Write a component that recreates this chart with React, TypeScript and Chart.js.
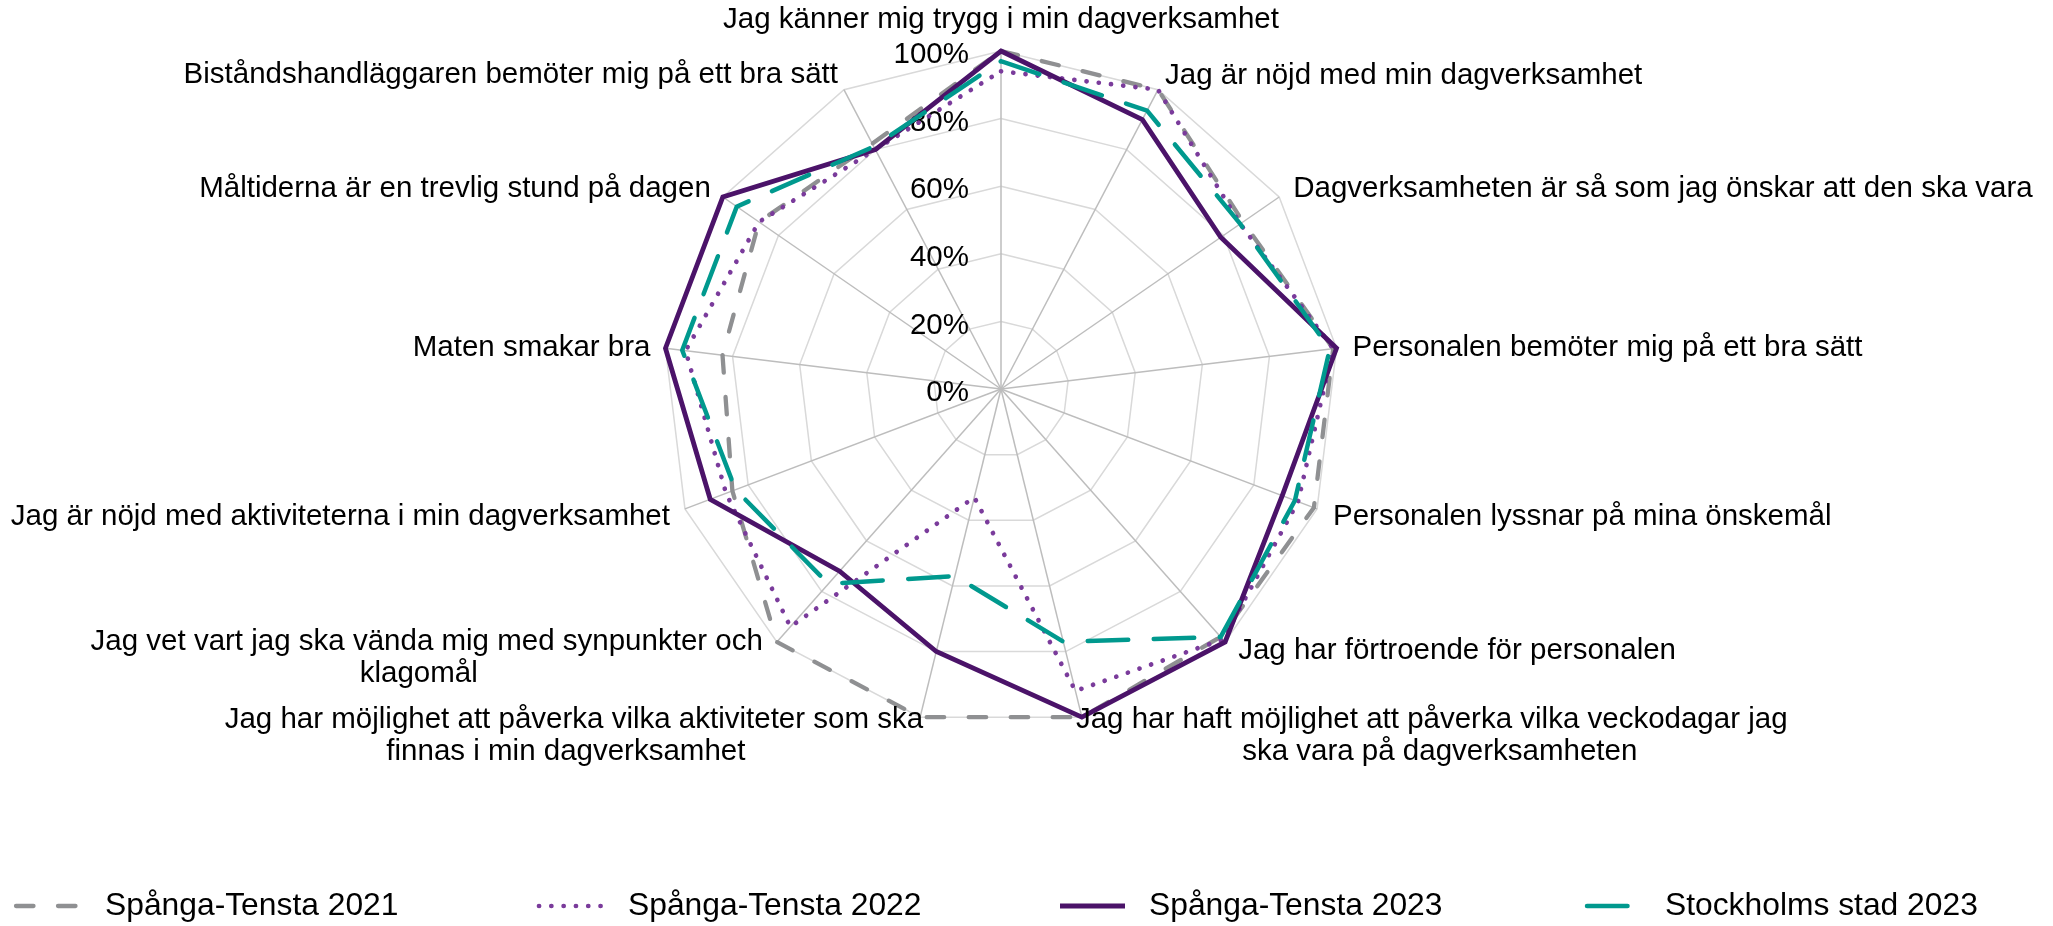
import React, { useEffect, useRef } from 'react';
import { Chart, registerables } from 'chart.js';

Chart.register(...registerables);

// ---------- data ----------
const categories: (string | string[])[] = [
  'Jag känner mig trygg i min dagverksamhet',
  'Jag är nöjd med min dagverksamhet',
  'Dagverksamheten är så som jag önskar att den ska vara',
  'Personalen bemöter mig på ett bra sätt',
  'Personalen lyssnar på mina önskemål',
  'Jag har förtroende för personalen',
  ['Jag har haft möjlighet att påverka vilka veckodagar jag', 'ska vara på dagverksamheten'],
  ['Jag har möjlighet att påverka vilka aktiviteter som ska', 'finnas i min dagverksamhet'],
  ['Jag vet vart jag ska vända mig med synpunkter och', 'klagomål'],
  'Jag är nöjd med aktiviteterna i min dagverksamhet',
  'Maten smakar bra',
  'Måltiderna är en trevlig stund på dagen',
  'Biståndshandläggaren bemöter mig på ett bra sätt',
];

const seriesNames = ['Spånga-Tensta 2021', 'Spånga-Tensta 2022', 'Spånga-Tensta 2023', 'Stockholms stad 2023'];

const spangaTensta2021 = [100, 100, 87, 99, 99, 98, 100, 100, 100, 85, 83, 87, 82];
const spangaTensta2022 = [94, 100, 86, 99, 94, 99, 92, 33, 94, 87, 94, 87, 80];
const spangaTensta2023 = [100, 90, 79, 100, 89, 100, 100, 80, 72, 92, 100, 100, 80];
const stockholmsStad2023 = [97, 93, 86, 98, 93, 98, 77, 57, 77, 84, 95, 95, 81];

const tickValues = [0, 20, 40, 60, 80, 100];

// ---------- layout / style ----------
const FONT = '"Liberation Sans", Arial, sans-serif';
const LABEL_SIZE = 29.5;
const LEGEND_SIZE = 31.8;
const LINE_HEIGHT = 31.5;
const CONT_SHIFT = 8; // continuation lines shift outward
// per-axis label offsets from the 100% vertex: [dx, dy]
const LABEL_OFFSETS: [number, number][] = [
  [0, -31], [7, -14], [14, -8], [16, 0], [16, 8], [13, 9], [-6, 3],
  [-3, 3], [14, 0], [15, 8], [15, 0], [12, -8], [6, -15],
];
const LEGEND_LINE_X = [16, 539, 1060, 1576];
const LEGEND_DASH_OFFSET = [0, 0, 0, -11];
const LEGEND_Y = 906;
const LEGEND_LINE = 65;
const LEGEND_TEXT_GAP = 89;

const tickPlugin = {
  id: 'radarTicks',
  beforeDatasetsDraw(chart: any) {
    const scale = chart.scales.r;
    const ctx = chart.ctx;
    ctx.save();
    ctx.fillStyle = '#000';
    ctx.font = `${LABEL_SIZE}px ${FONT}`;
    ctx.textAlign = 'right';
    ctx.textBaseline = 'middle';
    tickValues.forEach((v) => {
      const d = scale.getDistanceFromCenterForValue(v);
      ctx.fillText(`${v}%`, scale.xCenter - 32, scale.yCenter - d + 4);
    });
    ctx.restore();
  },
};

const labelPlugin = {
  id: 'radarLabels',
  afterDraw(chart: any) {
    const scale = chart.scales.r;
    const ctx = chart.ctx;
    const R = scale.drawingArea;
    ctx.save();
    ctx.fillStyle = '#000';
    ctx.font = `${LABEL_SIZE}px ${FONT}`;
    ctx.textBaseline = 'middle';
    ctx.textAlign = 'center';
    const n = categories.length;
    categories.forEach((lab, i) => {
      const p = scale.getPointPosition(i, R);
      const lines = Array.isArray(lab) ? lab : [lab];
      const widths = lines.map((l) => ctx.measureText(l).width);
      const bw = Math.max(...widths);
      const [dx, dy] = LABEL_OFFSETS[i];
      const s = Math.sin((i * 2 * Math.PI) / n);
      let x0: number;
      let dir = 0;
      if (Math.abs(s) < 0.05) x0 = p.x - bw / 2;
      else if (s > 0) { x0 = p.x + dx; dir = 1; }
      else { x0 = p.x - dx - bw; dir = -1; }
      lines.forEach((l, k) => {
        const shift = k > 0 ? dir * CONT_SHIFT : 0;
        ctx.fillText(l, x0 + bw / 2 + shift, p.y + dy + k * LINE_HEIGHT);
      });
    });
    ctx.restore();
  },
};

const legendPlugin = {
  id: 'lineLegend',
  afterDraw(chart: any) {
    const ctx = chart.ctx;
    chart.data.datasets.forEach((ds: any, i: number) => {
      const x = LEGEND_LINE_X[i];
      const y = LEGEND_Y;
      ctx.save();
      ctx.strokeStyle = ds.borderColor;
      ctx.lineWidth = ds.borderWidth;
      ctx.lineCap = ds.borderCapStyle || 'butt';
      ctx.setLineDash(ds.borderDash || []);
      ctx.lineDashOffset = LEGEND_DASH_OFFSET[i];
      ctx.beginPath();
      ctx.moveTo(x, y);
      ctx.lineTo(x + LEGEND_LINE, y);
      ctx.stroke();
      ctx.setLineDash([]);
      ctx.fillStyle = '#000';
      ctx.font = `${LEGEND_SIZE}px ${FONT}`;
      ctx.textAlign = 'left';
      ctx.textBaseline = 'middle';
      ctx.fillText(ds.label, x + LEGEND_TEXT_GAP, y);
      ctx.restore();
    });
  },
};

export default function App() {
  const ref = useRef<HTMLCanvasElement>(null);

  useEffect(() => {
    const canvas = ref.current;
    if (!canvas) return;
    const common = { fill: false, backgroundColor: 'transparent', pointRadius: 0, pointHoverRadius: 0, tension: 0 };
    const chart = new Chart(canvas, {
      type: 'radar',
      data: {
        labels: categories as any,
        datasets: [
          {
            ...common,
            label: seriesNames[0],
            data: spangaTensta2021,
            borderColor: '#8f9092',
            borderWidth: 4.3,
            borderDash: [17.5, 24.5],
            borderCapStyle: 'round',
            order: 3,
          },
          {
            ...common,
            label: seriesNames[1],
            data: spangaTensta2022,
            borderColor: '#7a3b9b',
            borderWidth: 4.7,
            borderDash: [0.1, 12.2],
            borderCapStyle: 'round',
            order: 2,
          },
          {
            ...common,
            label: seriesNames[2],
            data: spangaTensta2023,
            borderColor: '#4b1369',
            borderWidth: 4.8,
            borderDash: [],
            borderCapStyle: 'butt',
            order: 1,
          },
          {
            ...common,
            label: seriesNames[3],
            data: stockholmsStad2023,
            borderColor: '#00998e',
            borderWidth: 4.5,
            borderDash: [40.5, 25.5],
            borderCapStyle: 'round',
            order: 0,
          },
        ] as any,
      },
      options: {
        animation: false,
        responsive: true,
        maintainAspectRatio: false,
        layout: { padding: { left: 663, right: 714, top: 51, bottom: 199 } },
        elements: { line: { borderJoinStyle: 'miter' } },
        plugins: {
          legend: { display: false },
          tooltip: { enabled: false },
        },
        scales: {
          r: {
            min: 0,
            max: 100,
            ticks: { display: false, stepSize: 20 },
            pointLabels: { display: false },
            grid: { color: '#d9d9d9', lineWidth: 1.5 },
            angleLines: { color: '#bdbdbd', lineWidth: 1.5 },
          },
        },
      } as any,
      plugins: [tickPlugin, labelPlugin, legendPlugin],
    });
    return () => chart.destroy();
  }, []);

  return (
    <div style={{ position: 'fixed', left: 0, top: 0, width: 2053, height: 926, background: '#fff' }}>
      <canvas ref={ref} />
    </div>
  );
}
